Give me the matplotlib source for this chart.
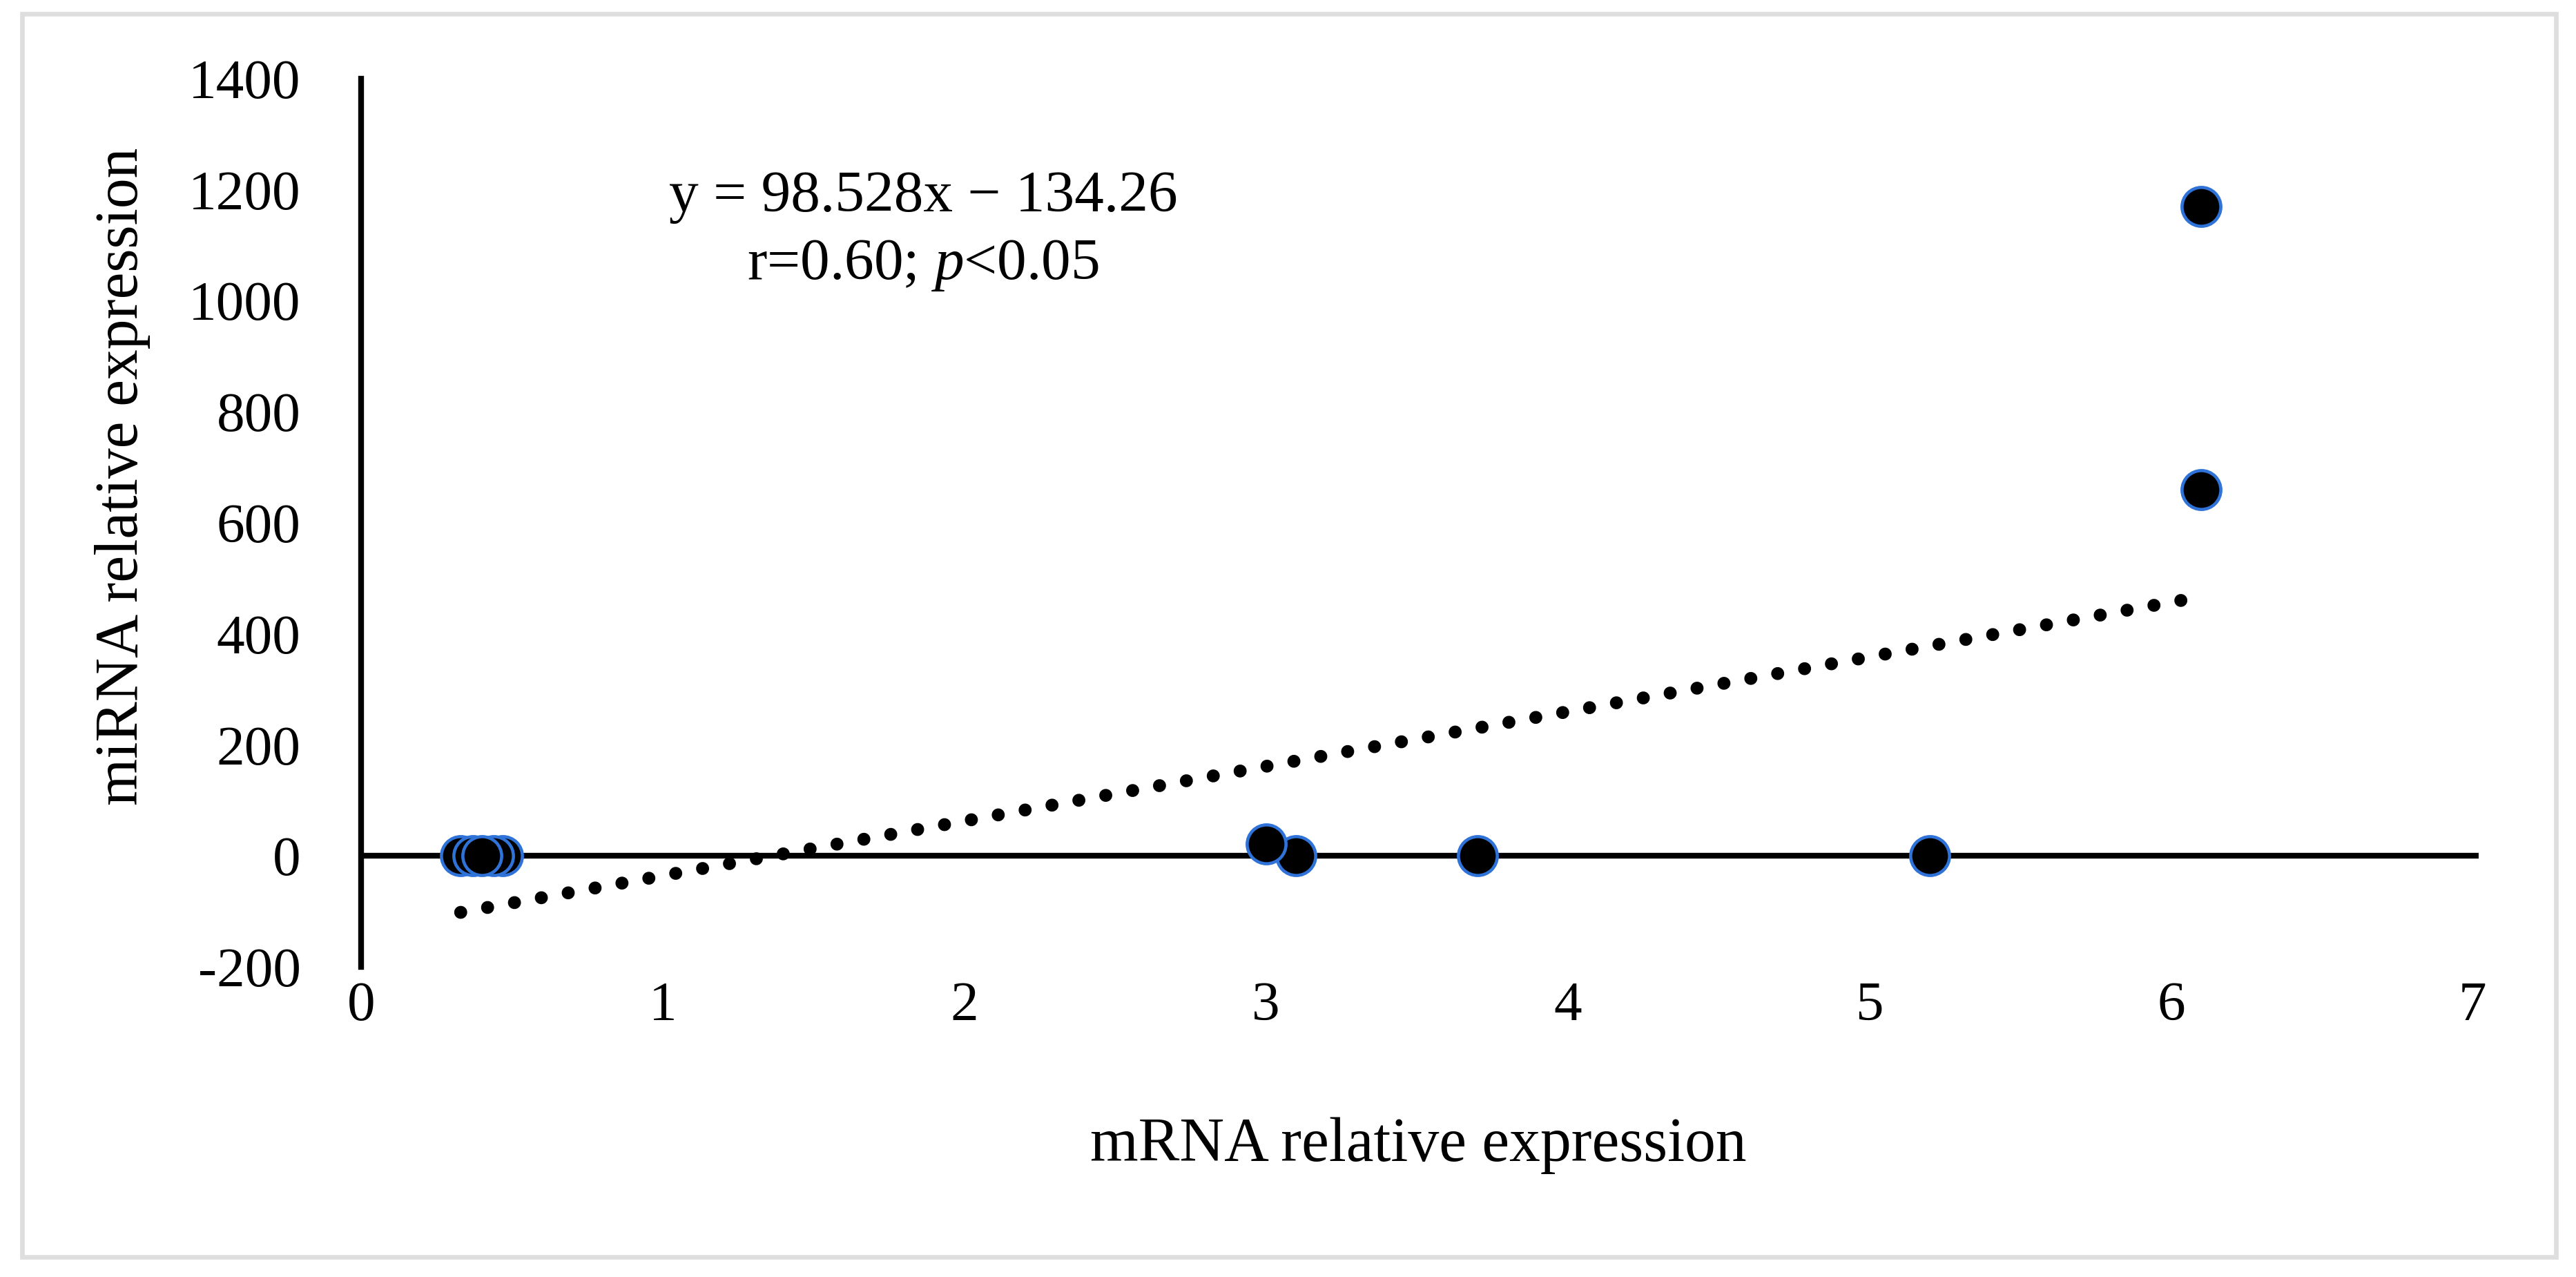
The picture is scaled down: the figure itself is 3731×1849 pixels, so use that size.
import matplotlib
matplotlib.use('Agg')
import matplotlib.pyplot as plt
from matplotlib.patches import Rectangle
import numpy as np

# data
mrna = [0.33, 0.47, 0.44, 0.37, 0.40, 3.1, 3.0, 3.7, 5.2, 6.1, 6.1]
mirna = [0, 0, 0, 0, 0, 0, 22, 0, 0, 1170, 660]
# trendline as printed on the chart
slope = 98.528
intercept = -134.26
x_ticks = list(range(0, 8))
y_ticks = list(range(-200, 1401, 200))

plt.rcParams['font.family'] = 'Liberation Serif'
plt.rcParams['mathtext.fontset'] = 'custom'
plt.rcParams['mathtext.rm'] = 'Liberation Serif'
plt.rcParams['mathtext.it'] = 'Liberation Serif:italic'
plt.rcParams['axes.unicode_minus'] = False

W, H = 3731, 1849
fig = plt.figure(figsize=(W / 300, H / 300), dpi=300)
ax = fig.add_axes([523 / W, 1 - 1400 / H, (3590 - 523) / W, (1400 - 114) / H])

# trendline from min to max x
xs = np.array([min(mrna), max(mrna)])
ax.plot(xs, slope * xs + intercept, color='black', lw=4.5,
        ls=(0, (0.01, 2.1)), dash_capstyle='round', zorder=2)

ax.axhline(0, color='black', lw=2, zorder=1)
ax.plot(mrna, mirna, ls='none', marker='o', ms=13.5, mfc='black',
        mec='#2F72D8', mew=1.1, zorder=3)

ax.set_xlim(0, 7.02)
ax.set_ylim(-200, 1400)
ax.set_xticks(x_ticks)
ax.set_yticks(y_ticks)
for s in ['top', 'right', 'bottom']:
    ax.spines[s].set_visible(False)
ax.spines['left'].set_linewidth(2)
ax.tick_params(length=0, labelsize=19.5)
ax.tick_params(axis='y', pad=21)
ax.tick_params(axis='x', pad=5)

fig.text(2054 / W, 1 - 1659 / H, 'mRNA relative expression', fontsize=21.5,
         ha='center', va='center')
fig.text(178 / W, 1 - 690 / H, 'miRNA relative expression', fontsize=21,
         ha='center', va='center', rotation=90)

fig.text(1337 / W, 1 - 285 / H, 'y = 98.528x \u2212 134.26', fontsize=20.5,
         ha='center', va='center')
fig.text(1337 / W, 1 - 385 / H, r'r=0.60; $\it{p}$<0.05', fontsize=20.5,
         ha='center', va='center')

# light grey frame round the whole figure
fig.add_artist(Rectangle((32 / W, 1 - 1820 / H), (3702 - 32) / W, (1820 - 20) / H,
                         transform=fig.transFigure, fill=False,
                         ec='#dedede', lw=1.6))

fig.savefig('out.png', dpi=300)
